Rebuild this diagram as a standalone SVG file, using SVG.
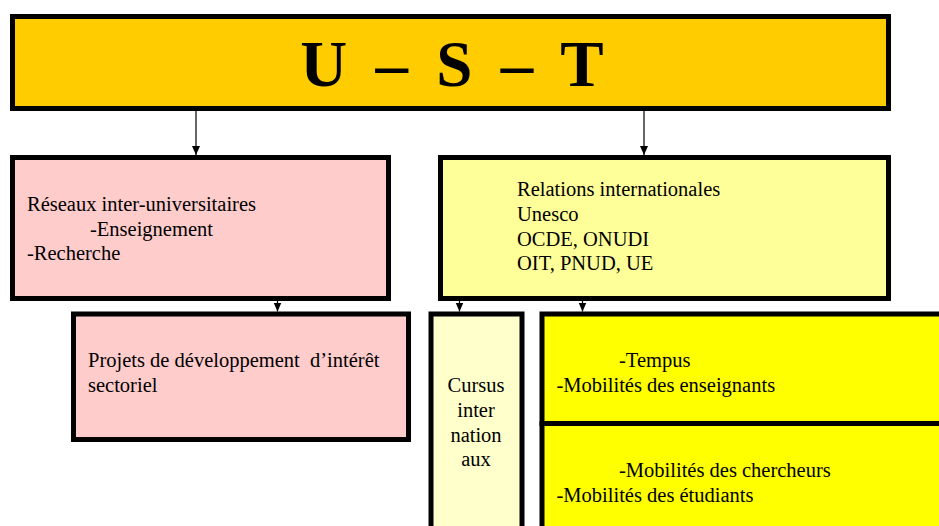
<svg xmlns="http://www.w3.org/2000/svg" width="939" height="526" viewBox="0 0 939 526">
<style>
.box{stroke:#000;stroke-width:5}
.t{font-family:"Liberation Serif","Times New Roman",serif;font-size:20.5px;fill:#000;white-space:pre}
.title{font-family:"Liberation Serif","Times New Roman",serif;font-size:65px;font-weight:bold;fill:#000;word-spacing:12px}
.c{stroke:#000;stroke-width:1.2;fill:none}
</style>
<defs>
<marker id="ah" markerUnits="userSpaceOnUse" markerWidth="10" markerHeight="10" refX="9" refY="4" orient="auto">
<path d="M0,0 L9,4 L0,8 z" fill="#000"/>
</marker>
</defs>
<rect width="939" height="526" fill="#fff"/>
<g id="connectors">
<line class="c" x1="196" y1="111" x2="196" y2="155" marker-end="url(#ah)"/>
<line class="c" x1="644" y1="111" x2="644" y2="155" marker-end="url(#ah)"/>
<line class="c" x1="277.5" y1="300" x2="277.5" y2="311.5" marker-end="url(#ah)"/>
<line class="c" x1="459.5" y1="300" x2="459.5" y2="311.5" marker-end="url(#ah)"/>
<line class="c" x1="582.5" y1="300" x2="582.5" y2="311.5" marker-end="url(#ah)"/>
</g>
<g id="ust">
<rect class="box" x="12.5" y="16.5" width="876" height="92" fill="#FFCC00"/>
<text class="title" x="452" y="86" text-anchor="middle">U – S – T</text>
</g>
<g id="reseaux">
<rect class="box" x="12.5" y="157.5" width="376" height="141" fill="#FFCCCC"/>
<text class="t" x="27" y="211">Réseaux inter-universitaires</text>
<text class="t" x="90" y="236">-Enseignement</text>
<text class="t" x="27" y="259.5">-Recherche</text>
</g>
<g id="relations">
<rect class="box" x="440.5" y="157.5" width="448" height="141" fill="#FFFF99"/>
<text class="t" x="517" y="195.5">Relations internationales</text>
<text class="t" x="517" y="220.5">Unesco</text>
<text class="t" x="517" y="245.5">OCDE, ONUDI</text>
<text class="t" x="517" y="270">OIT, PNUD, UE</text>
</g>
<g id="projets">
<rect class="box" x="73.5" y="314" width="335" height="125.5" fill="#FFCCCC"/>
<text class="t" x="88" y="367.3">Projets de développement  d’intérêt</text>
<text class="t" x="88" y="391.7">sectoriel</text>
</g>
<g id="cursus">
<rect class="box" x="431" y="314" width="91" height="260" fill="#FFFFCC"/>
<text class="t" x="476" y="391.7" text-anchor="middle">Cursus</text>
<text class="t" x="476" y="416.7" text-anchor="middle">inter</text>
<text class="t" x="476" y="441.7" text-anchor="middle">nation</text>
<text class="t" x="476" y="465.5" text-anchor="middle">aux</text>
</g>
<g id="tempus">
<rect class="box" x="542" y="314" width="420" height="109.5" fill="#FFFF00"/>
<text class="t" x="619" y="366.7">-Tempus</text>
<text class="t" x="556.5" y="391.7">-Mobilités des enseignants</text>
</g>
<g id="mobilites">
<rect class="box" x="542" y="423.5" width="420" height="200" fill="#FFFF00"/>
<text class="t" x="619" y="476.7">-Mobilités des chercheurs</text>
<text class="t" x="556.5" y="501.7">-Mobilités des étudiants</text>
</g>
</svg>
